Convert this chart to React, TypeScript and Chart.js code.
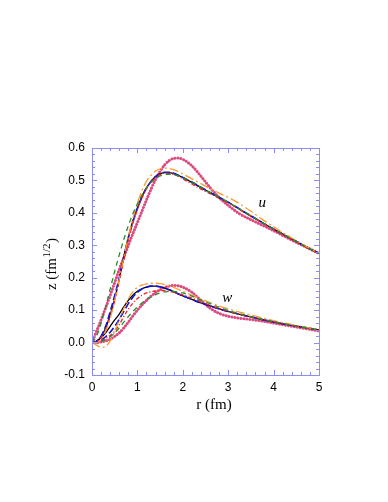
import React, { useEffect, useRef } from 'react';
import { Chart, registerables } from 'chart.js';
Chart.register(...registerables);

// radial grid r (fm)
const R = [0, 0.1, 0.2, 0.3, 0.4, 0.5, 0.6, 0.7, 0.8, 0.9, 1.0, 1.1, 1.2, 1.3, 1.4, 1.5, 1.6, 1.7, 1.8, 1.9, 2.0, 2.2, 2.4, 2.6, 2.8, 3.0, 3.25, 3.5, 3.75, 4.0, 4.25, 4.5, 4.75, 5.0];

// u components
const uBlack = [0, 0.004, 0.018, 0.045, 0.085, 0.135, 0.195, 0.265, 0.325, 0.375, 0.415, 0.45, 0.477, 0.497, 0.512, 0.52, 0.524, 0.524, 0.521, 0.516, 0.509, 0.494, 0.478, 0.462, 0.447, 0.432, 0.411, 0.39, 0.37, 0.35, 0.331, 0.312, 0.293, 0.275];
const uBlue = [0, 0.004, 0.02, 0.05, 0.095, 0.145, 0.2, 0.262, 0.322, 0.372, 0.413, 0.449, 0.476, 0.497, 0.512, 0.521, 0.525, 0.525, 0.522, 0.516, 0.509, 0.495, 0.479, 0.463, 0.448, 0.433, 0.412, 0.391, 0.37, 0.35, 0.331, 0.312, 0.293, 0.275];
const uGreen = [0, 0.02, 0.06, 0.11, 0.165, 0.22, 0.27, 0.318, 0.36, 0.397, 0.428, 0.455, 0.477, 0.494, 0.506, 0.514, 0.518, 0.519, 0.518, 0.514, 0.509, 0.495, 0.479, 0.463, 0.448, 0.433, 0.412, 0.391, 0.37, 0.35, 0.331, 0.312, 0.293, 0.275];
const uOrange = [0, 0.0, 0.01, 0.035, 0.075, 0.13, 0.195, 0.262, 0.327, 0.382, 0.43, 0.468, 0.497, 0.516, 0.529, 0.536, 0.538, 0.537, 0.533, 0.527, 0.52, 0.505, 0.49, 0.475, 0.461, 0.448, 0.428, 0.405, 0.38, 0.357, 0.335, 0.314, 0.294, 0.275];
const uRed = [0, 0.003, 0.015, 0.04, 0.08, 0.13, 0.19, 0.255, 0.318, 0.368, 0.41, 0.446, 0.474, 0.495, 0.509, 0.518, 0.522, 0.522, 0.519, 0.513, 0.505, 0.489, 0.473, 0.459, 0.445, 0.431, 0.41, 0.39, 0.369, 0.349, 0.33, 0.311, 0.292, 0.274];
const uPink = [0, 0.035, 0.07, 0.107, 0.145, 0.185, 0.225, 0.262, 0.3, 0.336, 0.37, 0.405, 0.44, 0.473, 0.503, 0.528, 0.548, 0.561, 0.568, 0.569, 0.565, 0.545, 0.513, 0.478, 0.447, 0.423, 0.397, 0.379, 0.362, 0.345, 0.327, 0.309, 0.292, 0.275];

// w components
const wBlack = [0, 0.004, 0.015, 0.03, 0.05, 0.07, 0.088, 0.11, 0.13, 0.146, 0.158, 0.166, 0.171, 0.174, 0.174, 0.172, 0.168, 0.163, 0.157, 0.15, 0.144, 0.133, 0.122, 0.113, 0.104, 0.096, 0.087, 0.079, 0.071, 0.064, 0.057, 0.051, 0.045, 0.039];
const wBlue = [0, 0.002, 0.008, 0.018, 0.032, 0.05, 0.072, 0.096, 0.12, 0.14, 0.155, 0.165, 0.171, 0.174, 0.174, 0.172, 0.168, 0.163, 0.157, 0.15, 0.144, 0.133, 0.122, 0.113, 0.104, 0.096, 0.087, 0.079, 0.071, 0.064, 0.057, 0.051, 0.045, 0.039];
const wGreen = [0, 0.001, 0.004, 0.01, 0.018, 0.03, 0.045, 0.063, 0.08, 0.096, 0.11, 0.122, 0.133, 0.141, 0.148, 0.153, 0.156, 0.158, 0.158, 0.156, 0.153, 0.143, 0.131, 0.12, 0.109, 0.099, 0.089, 0.08, 0.072, 0.065, 0.058, 0.051, 0.045, 0.039];
const wOrange = [0, -0.008, -0.015, -0.012, 0.005, 0.035, 0.07, 0.105, 0.135, 0.157, 0.17, 0.177, 0.181, 0.183, 0.183, 0.182, 0.179, 0.175, 0.17, 0.164, 0.158, 0.146, 0.134, 0.123, 0.113, 0.104, 0.094, 0.085, 0.076, 0.068, 0.06, 0.053, 0.046, 0.04];
const wRed = [0, 0.002, 0.006, 0.012, 0.022, 0.035, 0.055, 0.08, 0.103, 0.122, 0.136, 0.146, 0.153, 0.157, 0.159, 0.16, 0.16, 0.158, 0.155, 0.151, 0.147, 0.137, 0.126, 0.115, 0.105, 0.096, 0.087, 0.079, 0.071, 0.064, 0.057, 0.051, 0.045, 0.039];
const wPink = [0, 0.0, 0.002, 0.005, 0.01, 0.019, 0.03, 0.045, 0.063, 0.082, 0.1, 0.116, 0.13, 0.143, 0.154, 0.163, 0.17, 0.174, 0.176, 0.175, 0.171, 0.155, 0.13, 0.106, 0.09, 0.081, 0.075, 0.071, 0.066, 0.06, 0.054, 0.048, 0.042, 0.036];

const X_MIN = 0, X_MAX = 5, X_STEP = 1, X_MINOR = 0.2;
const Y_MIN = -0.1, Y_MAX = 0.6, Y_STEP = 0.1, Y_MINOR = 0.02;

const X_TITLE = 'r (fm)';
const Y_TITLE_MAIN = 'z (fm';
const Y_TITLE_SUP = '1/2';
const Y_TITLE_END = ')';
const LABEL_U = 'u';
const LABEL_W = 'w';

const STYLES = {
  black: { color: '#000000', width: 1.3, dash: [] as number[], cap: 'butt' },
  blue: { color: '#1414d8', width: 1.6, dash: [7, 3], cap: 'butt' },
  green: { color: '#23902a', width: 1.3, dash: [5, 4], cap: 'butt' },
  red: { color: '#f02020', width: 1.3, dash: [4, 2, 1.2, 2], cap: 'butt' },
  orange: { color: '#ff9a30', width: 1.3, dash: [9, 3, 2, 3], cap: 'butt' },
  pink: { color: '#dc4a82', width: 3.0, dash: [0.01, 3.0], cap: 'round' },
};

function ds(values: number[], key: keyof typeof STYLES) {
  const s = STYLES[key];
  return {
    data: R.map((r, i) => ({ x: r, y: values[i] })),
    borderColor: s.color,
    borderWidth: s.width,
    borderDash: s.dash,
    borderCapStyle: s.cap,
    pointRadius: 0,
    fill: false,
    cubicInterpolationMode: 'monotone',
  } as any;
}

const FRAME = '#8c8cf5';

const decor = {
  id: 'decor',
  afterDraw(chart: any) {
    const { ctx, chartArea: a, scales } = chart;
    const xs = scales.x, ys = scales.y;
    ctx.save();
    ctx.strokeStyle = FRAME;
    ctx.lineWidth = 1;
    ctx.strokeRect(Math.round(a.left) + 0.5, Math.round(a.top) + 0.5, Math.round(a.right - a.left), Math.round(a.bottom - a.top));
    ctx.beginPath();
    const nx = Math.round((X_MAX - X_MIN) / X_MINOR);
    for (let i = 0; i <= nx; i++) {
      const v = X_MIN + i * X_MINOR;
      const major = Math.abs(v / X_STEP - Math.round(v / X_STEP)) < 1e-6;
      const len = major ? 5 : 3;
      const px = Math.round(xs.getPixelForValue(v)) + 0.5;
      ctx.moveTo(px, a.bottom); ctx.lineTo(px, a.bottom - len);
      ctx.moveTo(px, a.top); ctx.lineTo(px, a.top + len);
    }
    const ny = Math.round((Y_MAX - Y_MIN) / Y_MINOR);
    for (let i = 0; i <= ny; i++) {
      const v = Y_MIN + i * Y_MINOR;
      const major = Math.abs(v / Y_STEP - Math.round(v / Y_STEP)) < 1e-6;
      const len = major ? 5 : 3;
      const py = Math.round(ys.getPixelForValue(v)) + 0.5;
      ctx.moveTo(a.left, py); ctx.lineTo(a.left + len, py);
      ctx.moveTo(a.right, py); ctx.lineTo(a.right - len, py);
    }
    ctx.stroke();

    // axis titles
    ctx.fillStyle = '#000';
    ctx.font = '15px "Liberation Serif", "Times New Roman", serif';
    ctx.textAlign = 'center';
    ctx.textBaseline = 'middle';
    ctx.fillText(X_TITLE, 214, 405);

    // y title rotated with superscript
    const mainFont = '15px "Liberation Serif", "Times New Roman", serif';
    const supFont = '11px "Liberation Serif", "Times New Roman", serif';
    ctx.font = mainFont;
    const w1 = ctx.measureText(Y_TITLE_MAIN).width;
    const w3 = ctx.measureText(Y_TITLE_END).width;
    ctx.font = supFont;
    const w2 = ctx.measureText(Y_TITLE_SUP).width;
    const total = w1 + w2 + w3 + 1;
    ctx.translate(56, 264);
    ctx.rotate(-Math.PI / 2);
    ctx.textAlign = 'left';
    ctx.textBaseline = 'alphabetic';
    let x0 = -total / 2;
    ctx.font = mainFont;
    ctx.fillText(Y_TITLE_MAIN, x0, 0);
    x0 += w1 + 0.5;
    ctx.font = supFont;
    ctx.fillText(Y_TITLE_SUP, x0, -6);
    x0 += w2 + 0.5;
    ctx.font = mainFont;
    ctx.fillText(Y_TITLE_END, x0, 0);
    ctx.restore();

    // curve labels
    ctx.save();
    ctx.fillStyle = '#000';
    ctx.font = 'italic 15px "Liberation Serif", "Times New Roman", serif';
    ctx.textAlign = 'center';
    ctx.textBaseline = 'middle';
    ctx.fillText(LABEL_U, xs.getPixelForValue(3.75), ys.getPixelForValue(0.43));
    ctx.fillText(LABEL_W, xs.getPixelForValue(2.98), ys.getPixelForValue(0.138));
    ctx.restore();
  },
};

export default function App() {
  const ref = useRef<HTMLCanvasElement | null>(null);
  useEffect(() => {
    if (!ref.current) return;
    const tickFont = { family: '"Liberation Sans", Arial, Helvetica, sans-serif', size: 12 };
    const chart = new Chart(ref.current, {
      type: 'line',
      data: {
        datasets: [
          ds(uGreen, 'green'), ds(uOrange, 'orange'), ds(uRed, 'red'), ds(uBlue, 'blue'), ds(uBlack, 'black'),
          ds(wGreen, 'green'), ds(wOrange, 'orange'), ds(wRed, 'red'), ds(wBlue, 'blue'), ds(wBlack, 'black'),
          ds(uPink, 'pink'), ds(wPink, 'pink'),
        ],
      },
      options: {
        animation: false,
        responsive: false,
        layout: { padding: { left: 0, top: 148, right: 69, bottom: 0 } },
        plugins: { legend: { display: false }, tooltip: { enabled: false } },
        scales: {
          x: {
            type: 'linear', min: X_MIN, max: X_MAX,
            grid: { display: false, drawTicks: false },
            border: { display: false },
            ticks: { stepSize: X_STEP, color: '#000', font: tickFont, padding: 5, callback: (v: any) => String(Math.round(Number(v))) },
            afterFit: (s: any) => { s.height = 127; },
          },
          y: {
            type: 'linear', min: Y_MIN, max: Y_MAX,
            grid: { display: false, drawTicks: false },
            border: { display: false },
            ticks: {
              stepSize: Y_STEP, color: '#000', font: tickFont, padding: 7,
              callback: (v: any) => (Math.abs(Number(v)) < 1e-9 ? 0 : Number(v)).toFixed(1),
            },
            afterFit: (s: any) => { s.width = 92; },
          },
        },
      } as any,
      plugins: [decor],
    });
    return () => chart.destroy();
  }, []);
  return (
    <div style={{ position: 'fixed', left: 0, top: 0, width: 388, height: 502, background: '#fff' }}>
      <canvas ref={ref} width={388} height={502} style={{ display: 'block' }} />
    </div>
  );
}
